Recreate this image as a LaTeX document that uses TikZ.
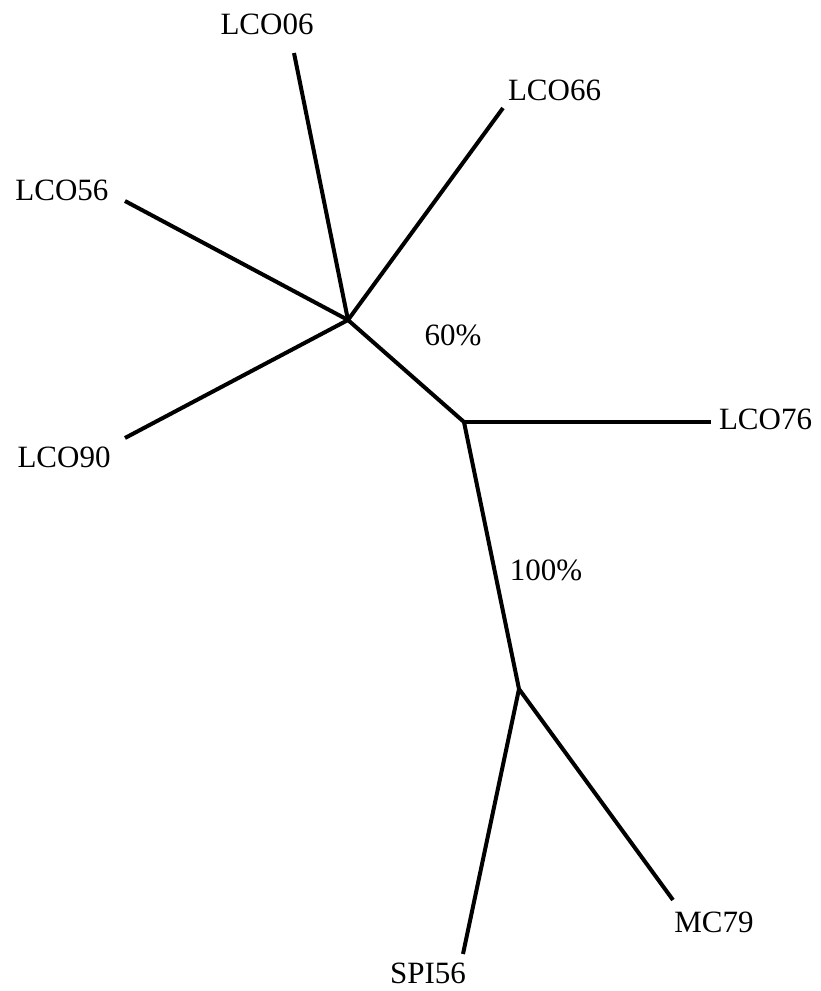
\documentclass[tikz,border=0pt]{standalone}
\usepackage{fontspec}
\setmainfont{Liberation Serif}
\begin{document}
\begin{tikzpicture}[x=1pt,y=-1pt,
  branch/.style={line width=4pt,line cap=butt,line join=miter},
  lab/.style={inner sep=0pt,font=\fontsize{31}{37}\selectfont}]
\useasboundingbox (0,0) rectangle (820,991);
% internal nodes
\coordinate (A) at (348,320);
\coordinate (B) at (464,422);
\coordinate (C) at (519,689);
% leaf ends
\coordinate (e06) at (294,53);
\coordinate (e66) at (503,108);
\coordinate (e56) at (125,201);
\coordinate (e90) at (125,438);
\coordinate (e76) at (711,422);
\coordinate (eMC) at (673,900);
\coordinate (eSPI) at (463,954);
% branches
\draw[branch] (e06) -- (A);
\draw[branch] (e66) -- (A);
\draw[branch] (e56) -- (A);
\draw[branch] (e90) -- (A);
\draw[branch] (A) -- (B);
\draw[branch] (B) -- (e76);
\draw[branch] (B) -- (C);
\draw[branch] (C) -- (eMC);
\draw[branch] (C) -- (eSPI);
% labels
\node[lab] (l06) at (267,24.5) {LCO06};
\node[lab] (l66) at (554.5,90) {LCO66};
\node[lab] (l56) at (62,190) {LCO56};
\node[lab] (l90) at (64,457.5) {LCO90};
\node[lab] (l76) at (765.5,419) {LCO76};
\node[lab] (lMC) at (714,922.5) {MC79};
\node[lab] (lSPI) at (428,973) {SPI56};
\node[lab] (s60) at (453,335) {60\%};
\node[lab] (s100) at (546,570) {100\%};
\end{tikzpicture}
\end{document}
